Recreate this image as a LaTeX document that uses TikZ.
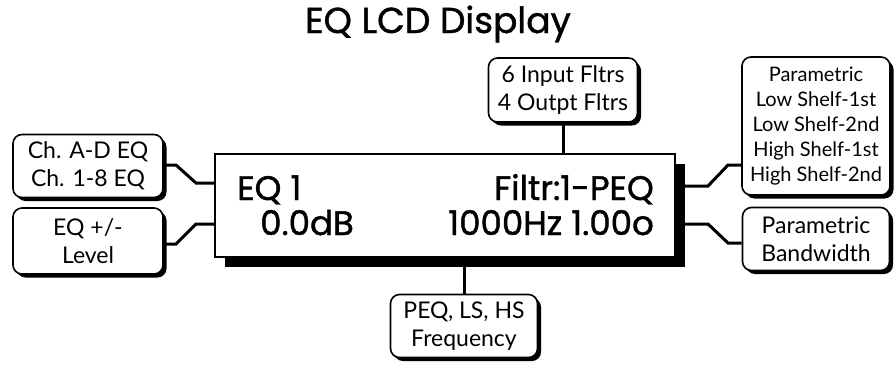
\documentclass[tikz,border=0pt]{standalone}
\usepackage{fontspec}
\usepackage{tikz}
\usetikzlibrary{positioning, shadows}
\setmainfont{Poppins}[FakeBold=1.2]
\newfontfamily\medfont{Poppins}[FakeBold=1.2]
\newfontfamily\lblfont{Lato}

\begin{document}
\begin{tikzpicture}[x=1pt, y=-1pt,
  lbl/.style={draw, line width=1.6pt, fill=white, rounded corners=9pt, align=center,
              inner sep=0pt, font=\lblfont\fontsize{23}{28}\selectfont,
              drop shadow={shadow xshift=3.5pt, shadow yshift=-3.5pt, fill=black, opacity=1}},
  lcd/.style={draw, line width=2pt, fill=white, inner sep=0pt,
              minimum width=460pt, minimum height=103pt,
              drop shadow={shadow xshift=10pt, shadow yshift=-10pt, fill=black, opacity=1}},
  scr/.style={font=\medfont\fontsize{34}{34}\selectfont, inner sep=0pt},
  wire/.style={line width=3pt},
]
  \useasboundingbox (0,0) rectangle (896,367);

  \node[font=\medfont\fontsize{36}{36}\selectfont, anchor=base] (title) at (438,33) {EQ LCD Display};

  % the display
  \node[lcd] (lcd) at (445,205.5) {};
  \node[scr, anchor=base west] (eq)   at (237,200) {EQ 1};
  \node[scr, anchor=base west] (lev)  at (260,235) {0.0dB};
  \node[scr, anchor=base east] (typ)  at (654,200) {Filtr:1-PEQ};
  \node[scr, anchor=base east] (frqv) at (654,235) {1000Hz 1.00o};

  % labels
  \node[lbl, minimum width=150pt, minimum height=63pt] (ch)  at (88,166)  {Ch. A-D EQ\\Ch. 1-8 EQ};
  \node[lbl, minimum width=150pt, minimum height=66pt] (lvl) at (88,241)  {EQ +/-\\Level};
  \node[lbl, minimum width=149pt, minimum height=64pt] (inp) at (563,90)  {6 Input Fltrs\\4 Outpt Fltrs};
  \node[lbl, minimum width=148pt, minimum height=138pt,
        font=\lblfont\fontsize{20}{25}\selectfont] (flt) at (816,126)
       {Parametric\\Low Shelf-1st\\Low Shelf-2nd\\High Shelf-1st\\High Shelf-2nd};
  \node[lbl, minimum width=147pt, minimum height=63pt] (bw)  at (816,239) {Parametric\\Bandwidth};
  \node[lbl, minimum width=147pt, minimum height=63pt] (frq) at (464,326) {PEQ, LS, HS\\Frequency};

  % connectors
  \draw[wire] (inp.south) -- (lcd.north -| inp.south);
  \draw[wire] (lcd.south -| frq.north) -- (frq.north);
  \draw[wire] (lcd.west |- 0,183) -- ++(-18,0) -- ++(-20,-18) -- (ch.east |- 0,165);
  \draw[wire] (lcd.west |- 0,224) -- ++(-18,0) -- ++(-20,20) -- (lvl.east |- 0,244);
  \draw[wire] (lcd.east |- 0,186) -- ++(32,0) -- ++(20,-21) -- (flt.west |- 0,165);
  \draw[wire] (lcd.east |- 0,224) -- ++(32,0) -- ++(20,19) -- (bw.west |- 0,243);
\end{tikzpicture}
\end{document}
